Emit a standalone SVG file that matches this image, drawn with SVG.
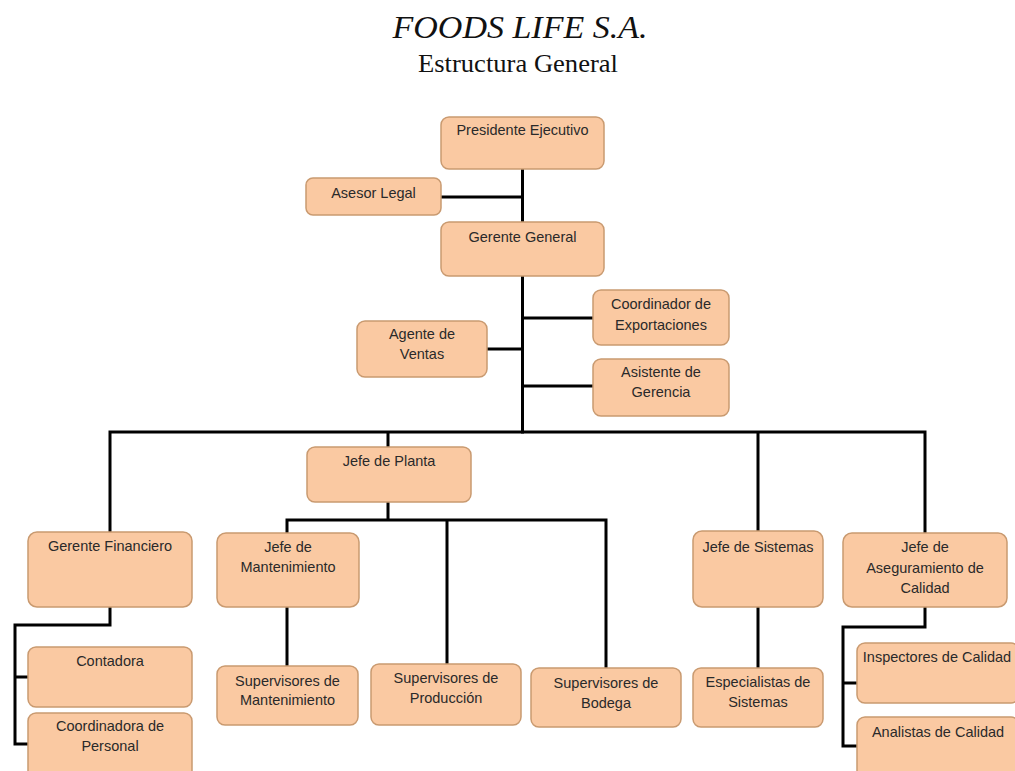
<svg xmlns="http://www.w3.org/2000/svg" width="1015" height="771" viewBox="0 0 1015 771">
<style>
.box{fill:#FAC9A2;stroke:#C99A70;stroke-width:1.5}
.t{font-family:"Liberation Sans",Arial,sans-serif;font-size:14.5px;fill:#2a2a2a;text-anchor:middle}
.ln{fill:none;stroke:#000;stroke-width:3;stroke-linecap:square;stroke-linejoin:miter}
</style>
<rect width="1015" height="771" fill="#fff"/>
<g id="title">
<text x="520" y="38" font-family="'Liberation Serif',serif" font-style="italic" font-size="32" text-anchor="middle" textLength="255" lengthAdjust="spacingAndGlyphs" fill="#111">FOODS LIFE S.A.</text>
<text x="518" y="72" font-family="'Liberation Serif',serif" font-size="26" text-anchor="middle" textLength="200" lengthAdjust="spacingAndGlyphs" fill="#111">Estructura General</text>
</g>
<g id="connectors" class="ln">
<path d="M522.5 169V222M441 197H522.5M522.5 276V432M522.5 318H593M487 349H522.5M522.5 386H593"/>
<path d="M110 532V432H925V533M388 432V447M758 432V531"/>
<path d="M388 502V520M287 533V520H606V668M447 520V664"/>
<path d="M287 607V666M758 607V668"/>
<path d="M110 607V625H15V744H28M15 677H28"/>
<path d="M925 607V627H843V746H857M843 683H857"/>
</g>
<g id="n-presidente"><rect class="box" x="441" y="117" width="163" height="52" rx="8"/><text class="t" x="522.5" y="135">Presidente Ejecutivo</text></g>
<g id="n-asesor"><rect class="box" x="306" y="178" width="135" height="37" rx="7"/><text class="t" x="373.5" y="198">Asesor Legal</text></g>
<g id="n-gerente"><rect class="box" x="441" y="222" width="163" height="54" rx="8"/><text class="t" x="522.5" y="242">Gerente General</text></g>
<g id="n-coordinador"><rect class="box" x="593" y="290" width="136" height="55" rx="8"/><text class="t" x="661" y="309">Coordinador de</text><text class="t" x="661" y="330">Exportaciones</text></g>
<g id="n-agente"><rect class="box" x="357" y="321" width="130" height="56" rx="8"/><text class="t" x="422" y="339">Agente de</text><text class="t" x="422" y="359">Ventas</text></g>
<g id="n-asistente"><rect class="box" x="593" y="359" width="136" height="57" rx="8"/><text class="t" x="661" y="377">Asistente de</text><text class="t" x="661" y="397">Gerencia</text></g>
<g id="n-planta"><rect class="box" x="307" y="447" width="164" height="55" rx="8"/><text class="t" x="389" y="466">Jefe de Planta</text></g>
<g id="n-financiero"><rect class="box" x="28" y="532" width="164" height="75" rx="9"/><text class="t" x="110" y="551">Gerente Financiero</text></g>
<g id="n-mantenimiento"><rect class="box" x="217" y="533" width="142" height="74" rx="9"/><text class="t" x="288" y="552">Jefe de</text><text class="t" x="288" y="572">Mantenimiento</text></g>
<g id="n-sistemas"><rect class="box" x="693" y="531" width="130" height="76" rx="9"/><text class="t" x="758" y="552">Jefe de Sistemas</text></g>
<g id="n-aseguramiento"><rect class="box" x="843" y="533" width="164" height="74" rx="9"/><text class="t" x="925" y="552">Jefe de</text><text class="t" x="925" y="573">Aseguramiento de</text><text class="t" x="925" y="593">Calidad</text></g>
<g id="n-contadora"><rect class="box" x="28" y="647" width="164" height="60" rx="8"/><text class="t" x="110" y="666">Contadora</text></g>
<g id="n-coordinadora"><rect class="box" x="28" y="713" width="164" height="66" rx="8"/><text class="t" x="110" y="731">Coordinadora de</text><text class="t" x="110" y="751">Personal</text></g>
<g id="n-sup-mant"><rect class="box" x="217" y="666" width="141" height="59" rx="8"/><text class="t" x="287.5" y="686">Supervisores de</text><text class="t" x="287.5" y="705">Mantenimiento</text></g>
<g id="n-sup-prod"><rect class="box" x="371" y="664" width="150" height="61" rx="8"/><text class="t" x="446" y="683">Supervisores de</text><text class="t" x="446" y="703">Producción</text></g>
<g id="n-sup-bodega"><rect class="box" x="531" y="668" width="150" height="59" rx="8"/><text class="t" x="606" y="688">Supervisores de</text><text class="t" x="606" y="708">Bodega</text></g>
<g id="n-especialistas"><rect class="box" x="693" y="668" width="130" height="59" rx="8"/><text class="t" x="758" y="687">Especialistas de</text><text class="t" x="758" y="707">Sistemas</text></g>
<g id="n-inspectores"><rect class="box" x="857" y="643" width="162" height="60" rx="8"/><text class="t" x="937" y="662">Inspectores de Calidad</text></g>
<g id="n-analistas"><rect class="box" x="857" y="717" width="162" height="62" rx="8"/><text class="t" x="938" y="737">Analistas de Calidad</text></g>
</svg>
